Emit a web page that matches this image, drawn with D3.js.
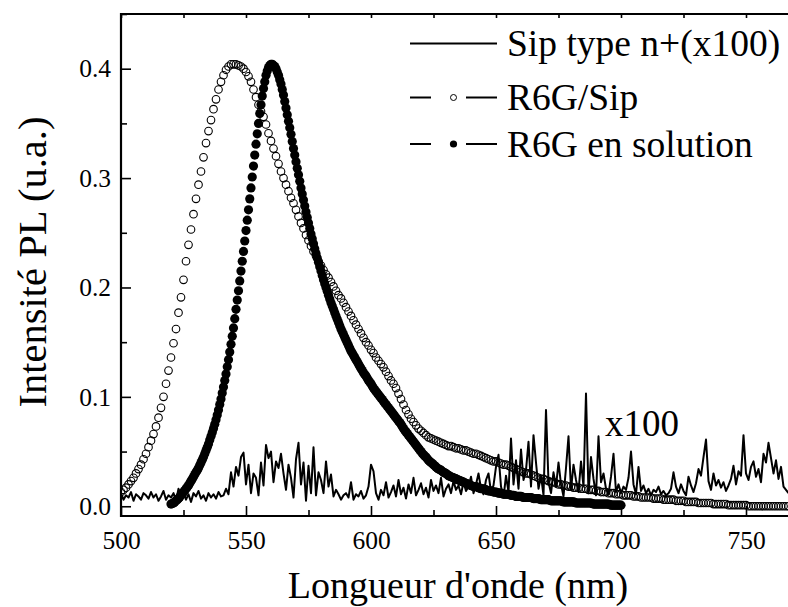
<!DOCTYPE html>
<html><head><meta charset="utf-8">
<script src="https://cdn.jsdelivr.net/npm/d3@7"></script>
<style>body{margin:0;background:#fff}svg{display:block}</style>
</head><body>
<script>
// wavelength grids (nm): first value and step
const openStart = 500, openStep = 1;
const filledStart = 520, filledStep = 0.5;
const noiseStart = 500, noiseStep = 1;
// R6G/Sip (open circles)
const r6gSip = [
0.013,0.015,0.017,0.020,0.023,0.026,0.030,0.034,0.038,0.043,
0.048,0.054,0.060,0.066,0.073,0.081,0.090,0.100,0.112,0.124,
0.136,0.149,0.162,0.177,0.191,0.207,0.224,0.239,0.253,0.267,
0.281,0.294,0.306,0.319,0.332,0.343,0.353,0.363,0.372,0.381,
0.388,0.394,0.399,0.402,0.404,0.404,0.404,0.403,0.402,0.400,
0.397,0.393,0.388,0.381,0.374,0.367,0.361,0.356,0.349,0.341,
0.334,0.327,0.320,0.313,0.306,0.300,0.294,0.288,0.282,0.277,
0.271,0.265,0.259,0.254,0.248,0.243,0.238,0.233,0.229,0.224,
0.220,0.216,0.212,0.209,0.205,0.201,0.197,0.193,0.190,0.186,
0.182,0.178,0.174,0.170,0.166,0.162,0.158,0.154,0.150,0.147,
0.143,0.140,0.136,0.133,0.130,0.127,0.123,0.119,0.115,0.112,
0.108,0.103,0.098,0.093,0.088,0.084,0.080,0.077,0.074,0.071,
0.069,0.067,0.065,0.063,0.062,0.061,0.060,0.059,0.058,0.057,
0.056,0.055,0.055,0.054,0.053,0.053,0.052,0.051,0.051,0.050,
0.049,0.048,0.048,0.047,0.046,0.045,0.044,0.043,0.042,0.041,
0.041,0.040,0.039,0.038,0.038,0.037,0.036,0.035,0.034,0.033,
0.032,0.031,0.030,0.030,0.029,0.028,0.027,0.026,0.025,0.025,
0.024,0.023,0.022,0.022,0.021,0.020,0.020,0.019,0.019,0.018,
0.018,0.017,0.017,0.017,0.016,0.016,0.016,0.015,0.015,0.015,
0.014,0.014,0.013,0.013,0.013,0.012,0.012,0.012,0.011,0.011,
0.011,0.010,0.010,0.010,0.010,0.009,0.009,0.009,0.008,0.008,
0.008,0.008,0.008,0.007,0.007,0.007,0.007,0.006,0.006,0.006,
0.006,0.006,0.005,0.005,0.005,0.005,0.004,0.004,0.004,0.004,
0.004,0.003,0.003,0.003,0.003,0.003,0.003,0.002,0.002,0.002,
0.002,0.002,0.002,0.001,0.001,0.001,0.001,0.001,0.001,0.001,
0.001,0.000,0.000,0.000,0.000,0.000,0.000,0.000,0.000,0.000,
0.000,0.000,0.000,0.000,0.000,0.000,0.000,0.000];
// R6G en solution (filled circles), 0.5 nm steps
const r6gSol = [
0.002,0.0025,0.003,0.004,0.005,0.006,0.007,0.0085,0.010,0.0115,
0.013,0.0145,0.016,0.0175,0.019,0.021,0.023,0.025,0.027,0.029,
0.031,0.033,0.035,0.0375,0.040,0.0425,0.045,0.048,0.051,0.054,
0.057,0.0605,0.064,0.0675,0.071,0.075,0.079,0.0835,0.088,0.093,
0.098,0.1035,0.109,0.115,0.121,0.1275,0.134,0.141,0.148,0.1555,
0.163,0.1715,0.180,0.1885,0.197,0.206,0.215,0.224,0.233,0.2425,
0.252,0.2615,0.271,0.281,0.291,0.301,0.311,0.321,0.331,0.3405,
0.350,0.359,0.367,0.375,0.382,0.388,0.394,0.398,0.401,0.403,
0.404,0.404,0.403,0.402,0.400,0.397,0.394,0.390,0.386,0.381,
0.376,0.370,0.364,0.358,0.352,0.346,0.340,0.3335,0.327,0.321,
0.315,0.309,0.303,0.297,0.291,0.2855,0.280,0.2745,0.269,0.264,
0.259,0.254,0.249,0.2445,0.240,0.2355,0.231,0.227,0.223,0.219,
0.215,0.211,0.207,0.2035,0.200,0.1965,0.193,0.1895,0.186,0.183,
0.180,0.177,0.174,0.171,0.168,0.165,0.162,0.1595,0.157,0.1545,
0.152,0.1495,0.147,0.1445,0.142,0.140,0.138,0.136,0.134,0.132,
0.130,0.128,0.126,0.124,0.122,0.1205,0.119,0.117,0.115,0.1135,
0.112,0.110,0.108,0.1065,0.105,0.1035,0.102,0.1005,0.099,0.0975,
0.096,0.0945,0.093,0.0915,0.090,0.0885,0.087,0.0855,0.084,0.0825,
0.081,0.0795,0.078,0.0765,0.075,0.073,0.071,0.0695,0.068,0.0665,
0.065,0.0635,0.062,0.0605,0.059,0.0575,0.056,0.0545,0.053,0.0515,
0.050,0.0485,0.047,0.046,0.045,0.0435,0.042,0.041,0.040,0.039,
0.038,0.037,0.036,0.035,0.034,0.0335,0.033,0.032,0.031,0.0305,
0.030,0.029,0.028,0.0275,0.027,0.0265,0.026,0.0255,0.025,0.0245,
0.024,0.0235,0.023,0.0225,0.022,0.0215,0.021,0.0205,0.020,0.0195,
0.019,0.0185,0.018,0.018,0.018,0.0175,0.017,0.0165,0.016,0.016,
0.016,0.0155,0.015,0.0145,0.014,0.014,0.014,0.0135,0.013,0.013,
0.013,0.0125,0.012,0.012,0.012,0.0115,0.011,0.011,0.011,0.011,
0.011,0.0105,0.010,0.010,0.010,0.0095,0.009,0.009,0.009,0.009,
0.009,0.0085,0.008,0.008,0.008,0.008,0.008,0.008,0.008,0.0075,
0.007,0.007,0.007,0.007,0.007,0.0065,0.006,0.006,0.006,0.006,
0.006,0.006,0.006,0.0055,0.005,0.005,0.005,0.005,0.005,0.005,
0.005,0.005,0.005,0.0045,0.004,0.004,0.004,0.004,0.004,0.004,
0.004,0.004,0.004,0.0035,0.003,0.003,0.003,0.003,0.003,0.003,
0.003,0.003,0.003,0.003,0.003,0.003,0.003,0.0025,0.002,0.002,
0.002,0.002,0.002,0.002,0.002,0.002,0.002,0.002,0.002,0.002,
0.002,0.0015,0.001,0.001,0.001,0.001,0.001,0.001,0.001,0.001,
0.001];
// Sip type n+ (x100) (solid line)
const sipN = [
0.012,0.006,0.010,0.008,0.013,0.005,0.011,0.009,0.006,0.012,
0.010,0.007,0.013,0.008,0.011,0.005,0.009,0.014,0.006,0.010,
0.008,0.012,0.005,0.016,0.010,0.013,0.006,0.011,0.004,0.012,
0.009,0.014,0.007,0.010,0.005,0.012,0.008,0.011,0.007,0.013,
0.009,0.010,0.016,0.011,0.031,0.018,0.036,0.028,0.045,0.049,
0.020,0.038,0.012,0.030,0.026,0.010,0.040,0.019,0.056,0.044,
0.050,0.022,0.041,0.035,0.048,0.030,0.015,0.038,0.026,0.008,
0.043,0.058,0.020,0.040,0.005,0.037,0.012,0.054,0.010,0.031,
0.024,0.012,0.041,0.018,0.029,0.009,0.015,0.011,0.006,0.010,
0.012,0.008,0.022,0.006,0.011,0.009,0.014,0.007,0.010,0.018,
0.038,0.032,0.012,0.006,0.015,0.010,0.022,0.008,0.013,0.019,
0.009,0.024,0.011,0.017,0.007,0.020,0.012,0.026,0.010,0.015,
0.021,0.011,0.017,0.008,0.024,0.014,0.019,0.012,0.026,0.009,
0.016,0.020,0.012,0.023,0.015,0.019,0.011,0.022,0.014,0.018,
0.027,0.012,0.020,0.030,0.016,0.011,0.024,0.030,0.013,0.019,
0.036,0.047,0.018,0.008,0.028,0.013,0.062,0.020,0.042,0.016,
0.052,0.024,0.033,0.059,0.018,0.065,0.040,0.016,0.028,0.010,
0.088,0.022,0.012,0.031,0.018,0.040,0.020,0.009,0.035,0.064,
0.015,0.038,0.024,0.013,0.041,0.018,0.103,0.012,0.045,0.025,
0.010,0.064,0.022,0.030,0.016,0.011,0.027,0.048,0.013,0.020,
0.012,0.018,0.015,0.026,0.050,0.020,0.011,0.036,0.014,0.019,
0.012,0.016,0.010,0.015,0.013,0.018,0.011,0.014,0.010,0.012,
0.016,0.031,0.018,0.012,0.020,0.014,0.010,0.027,0.019,0.013,
0.021,0.034,0.028,0.045,0.061,0.023,0.015,0.030,0.019,0.024,
0.017,0.022,0.014,0.019,0.025,0.037,0.020,0.032,0.028,0.065,
0.030,0.024,0.036,0.041,0.027,0.034,0.022,0.048,0.040,0.058,
0.044,0.030,0.042,0.025,0.036,0.018,0.015,0.012];

const xTicks = [500, 550, 600, 650, 700, 750];
const yTicks = [0.0, 0.1, 0.2, 0.3, 0.4];
const legendLabels = ["Sip type n+(x100)", "R6G/Sip", "R6G en solution"];
const xTitle = "Longueur d'onde (nm)";
const yTitle = "Intensité PL (u.a.)";
const annotation = "x100";

const FONT = '"Liberation Serif", "Times New Roman", Times, serif';
const W = 788, H = 607;
const L = 121, T = 14, R = 788, B = 516;
const svg = d3.select("body").append("svg").attr("width", W).attr("height", H);

const x = d3.scaleLinear().domain([500, 766.8]).range([L, R]);
const y = d3.scaleLinear().domain([-0.0089, 0.45]).range([B, T]);

const toPts = (arr, start, st) => arr.map((v, i) => ({ w: start + i * st, v }));
const openPts = toPts(r6gSip, openStart, openStep);
const fillPts = toPts(r6gSol, filledStart, filledStep);
const noisePts = toPts(sipN, noiseStart, noiseStep);

svg.append("clipPath").attr("id", "clip").append("rect")
  .attr("x", L).attr("y", T).attr("width", R - L + 10).attr("height", B - T);
const plot = svg.append("g").attr("clip-path", "url(#clip)");

plot.append("g").selectAll("circle").data(openPts).join("circle")
  .attr("cx", d => x(d.w)).attr("cy", d => y(d.v)).attr("r", 3.8)
  .attr("fill", "none").attr("stroke", "#000").attr("stroke-width", 1.1);

plot.append("g").selectAll("circle").data(fillPts).join("circle")
  .attr("cx", d => x(d.w)).attr("cy", d => y(d.v)).attr("r", 4.6)
  .attr("fill", "#000");

plot.append("path").datum(noisePts)
  .attr("d", d3.line().x(d => x(d.w)).y(d => y(d.v)))
  .attr("fill", "none").attr("stroke", "#000").attr("stroke-width", 2).attr("stroke-linejoin", "round");

// axes
const fs = 25.5;
const xAxis = d3.axisBottom(x).tickValues(xTicks).tickSizeInner(-10).tickSizeOuter(0).tickPadding(15).tickFormat(d3.format("d"));
const gx = svg.append("g").attr("transform", `translate(0,${B})`).call(xAxis);
const xMinor = d3.axisBottom(x).tickValues(xTicks.map(t => t + 25)).tickSizeInner(-6).tickSizeOuter(0).tickFormat("");
svg.append("g").attr("transform", `translate(0,${B})`).call(xMinor);
const xTop = d3.axisTop(x).tickValues(xTicks.flatMap(t => [t, t + 25])).tickSizeInner(-4).tickSizeOuter(0).tickFormat("");
svg.append("g").attr("transform", `translate(0,${T})`).call(xTop);

const yAxis = d3.axisLeft(y).tickValues(yTicks).tickSizeInner(-10).tickSizeOuter(0).tickPadding(10).tickFormat(d3.format(".1f"));
svg.append("g").attr("transform", `translate(${L},0)`).call(yAxis);
const yMinor = d3.axisLeft(y).tickValues(yTicks.map(t => t + 0.05)).tickSizeInner(-6).tickSizeOuter(0).tickFormat("");
svg.append("g").attr("transform", `translate(${L},0)`).call(yMinor);

svg.selectAll(".domain").remove();
svg.selectAll(".tick line").attr("stroke", "#000").attr("stroke-width", 1.6);
svg.selectAll(".tick text").attr("font-size", fs).attr("fill", "#000");
gx.selectAll(".tick text").attr("dy", "0.71em");

// frame
svg.append("path").attr("d", `M${L},${B}H${R + 2}M${L},${T}H${R + 2}M${L},${T - 1}V${B + 1}`)
  .attr("stroke", "#000").attr("stroke-width", 2.2).attr("fill", "none");

// titles
svg.append("text").attr("x", 458).attr("y", 598).attr("text-anchor", "middle")
  .attr("font-size", 38).text(xTitle);
svg.append("text").attr("transform", "translate(46,262) rotate(-90)").attr("text-anchor", "middle")
  .attr("font-size", 40.5).text(yTitle);
svg.append("text").attr("x", 605).attr("y", 436).attr("font-size", 37).text(annotation);

// legend
const legY = [43.5, 97.5, 144];
const lg = svg.append("g");
legendLabels.forEach((lab, i) => {
  const yy = legY[i];
  if (i === 0) {
    lg.append("line").attr("x1", 410).attr("x2", 497).attr("y1", yy).attr("y2", yy).attr("stroke", "#000").attr("stroke-width", 2);
  } else {
    lg.append("line").attr("x1", 410).attr("x2", 431).attr("y1", yy).attr("y2", yy).attr("stroke", "#000").attr("stroke-width", 2);
    lg.append("line").attr("x1", 466).attr("x2", 497).attr("y1", yy).attr("y2", yy).attr("stroke", "#000").attr("stroke-width", 2);
    if (i === 1) lg.append("circle").attr("cx", 453.5).attr("cy", yy).attr("r", 3).attr("fill", "none").attr("stroke", "#000").attr("stroke-width", 1);
    else lg.append("circle").attr("cx", 453.5).attr("cy", yy).attr("r", 3.6).attr("fill", "#000");
  }
  lg.append("text").attr("x", 507).attr("y", yy + 12.5).attr("font-size", 37.5).text(lab);
});

svg.selectAll("text").style("font-family", FONT).style("fill", "#000");
</script>
</body></html>
